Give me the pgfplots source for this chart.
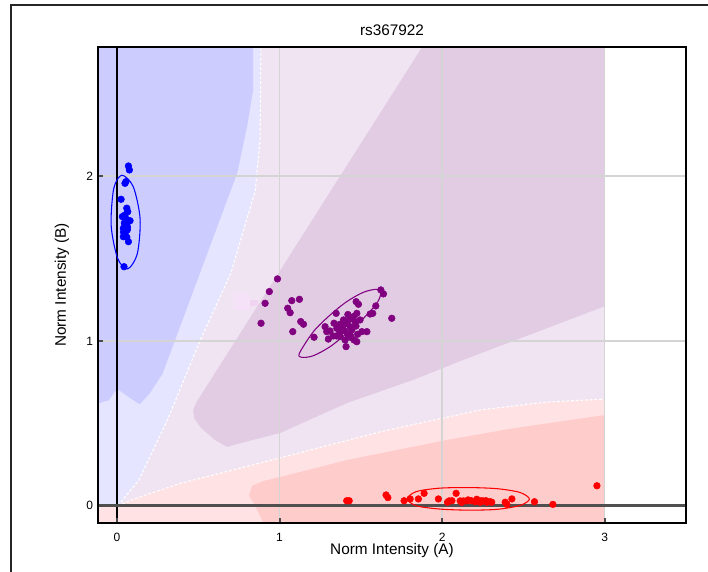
\documentclass[border=0pt]{standalone}
\usepackage{pgfplots}
\pgfplotsset{compat=1.18}
\usepackage{fontspec}
\setmainfont{Liberation Sans}
\definecolor{dblue}{RGB}{204,204,255}
\definecolor{lblue}{RGB}{229,229,255}
\definecolor{lav}{RGB}{240,228,242}
\definecolor{dpur}{RGB}{226,204,228}
\definecolor{lpink}{RGB}{255,226,228}
\definecolor{dpink}{RGB}{255,204,204}
\definecolor{gridc}{RGB}{212,212,212}
\definecolor{zeroc}{RGB}{80,80,80}
\definecolor{sq1}{RGB}{246,226,248}
\definecolor{sq2}{RGB}{240,212,240}
\definecolor{ppl}{RGB}{128,0,128}
\begin{document}
\begin{tikzpicture}
\useasboundingbox (0,0) rectangle (531pt,429pt);
\draw[line width=1.5pt, color=black!85] (8.25pt,-20pt) rectangle (560pt,425.25pt);
\begin{axis}[
  at={(73.5pt,36.75pt)}, anchor=south west,
  width=441pt, height=357pt, scale only axis,
  xmin=-0.117, xmax=3.5, ymin=-0.105, ymax=2.783,
  axis on top,
  axis line style={line width=1.5pt, black},
  xtick={0,1,2,3}, ytick={0,1,2},
  xtick pos=left, ytick pos=left,
  tick align=inside, major tick length=3.75pt,
  tick style={line width=1.5pt, color=black!70},
  /pgf/number format/assume math mode=true,
  tick label style={font=\fontsize{9}{10}\selectfont, inner sep=0pt},
  xticklabel style={anchor=center, yshift=-10.5pt},
  yticklabel style={anchor=east, xshift=-3.5pt},
]
% background regions
\addplot[fill=lav, draw=none] coordinates {(-0.117,-0.105) (3,-0.105) (3,2.783) (-0.117,2.783)} --cycle;
\addplot[fill=lblue, draw=none] coordinates {(-0.117,0) (0.005,0) (0.135,0.156) (0.31,0.52) (0.51,1.0) (0.70,1.41) (0.85,1.91) (0.88,2.22) (0.885,2.783) (-0.117,2.783)} --cycle;
\addplot[fill=dblue, draw=none] coordinates {(-0.117,0.62) (-0.05,0.64) (0.0,0.71) (0.07,0.66) (0.14,0.615) (0.2,0.68) (0.28,0.80) (0.51,1.41) (0.74,2.02) (0.80,2.3) (0.837,2.52) (0.837,2.783) (-0.117,2.783)} --cycle;
\addplot[fill=dpur, draw=none] coordinates {(0.49,0.63) (0.468,0.581) (0.475,0.53) (0.511,0.478) (0.60,0.40) (0.677,0.357) (0.80,0.39) (1.003,0.441) (1.415,0.623) (1.822,0.763) (2.129,0.884) (2.6,1.06) (3.0,1.21) (3.0,2.783) (1.877,2.783)} --cycle;
\addplot[fill=lpink, draw=none] coordinates {(-0.117,-0.105) (-0.117,0) (0.005,0) (0.1,0.04) (0.388,0.135) (1.003,0.29) (1.618,0.448) (2.234,0.581) (2.646,0.629) (3.0,0.647) (3,-0.105)} --cycle;
\addplot[fill=dpink, draw=none] coordinates {(0.9,-0.105) (0.85,0.0) (0.812,0.06) (0.83,0.12) (0.9,0.15) (1.003,0.174) (1.415,0.277) (2.03,0.399) (2.44,0.47) (3,0.55) (3,-0.105)} --cycle;
\addplot[fill=sq1, draw=none] coordinates {(0.714,1.19) (0.818,1.19) (0.818,1.29) (0.714,1.29)} --cycle;
\addplot[fill=sq2, draw=none] coordinates {(0.818,1.21) (0.868,1.21) (0.868,1.25) (0.818,1.25)} --cycle;
% white dashed boundaries
\addplot[white, line width=0.8pt, dash pattern=on 2pt off 1.5pt] coordinates {(0.005,0) (0.135,0.156) (0.31,0.52) (0.51,1.0) (0.70,1.41) (0.85,1.91) (0.88,2.22) (0.885,2.783)};
\addplot[white, line width=0.8pt, dash pattern=on 2pt off 1.5pt] coordinates {(0.005,0) (0.1,0.04) (0.388,0.135) (1.003,0.29) (1.618,0.448) (2.234,0.581) (2.646,0.629) (3.0,0.647)};
% grid
\draw[gridc, line width=1.1pt] (1,-0.105) -- (1,2.783);
\draw[gridc, line width=1.1pt] (2,-0.105) -- (2,2.783);
\draw[gridc, line width=1.1pt] (3,-0.105) -- (3,2.783);
\draw[gridc, line width=1.1pt] (-0.117,1) -- (3.5,1);
\draw[gridc, line width=1.1pt] (-0.117,2) -- (3.5,2);
% zero lines
\draw[black, line width=1pt] (0,-0.105) -- (0,2.783);
\draw[zeroc, line width=1.9pt] (-0.117,0) -- (3.5,0);
% ellipses
\addplot[blue, line width=0.8pt, smooth cycle] coordinates {(0.030,2.005) (0.100,1.935) (0.142,1.74) (0.125,1.53) (0.066,1.437) (0.004,1.50) (-0.036,1.70) (-0.020,1.925)};
\addplot[ppl, line width=0.8pt, smooth cycle] coordinates {(1.122,0.925) (1.208,1.056) (1.311,1.157) (1.413,1.238) (1.516,1.295) (1.598,1.313) (1.623,1.289) (1.598,1.228) (1.516,1.137) (1.413,1.046) (1.311,0.965) (1.208,0.910) (1.137,0.900)};
\addplot[red, line width=0.8pt, smooth cycle] coordinates {(1.785,0.042) (1.84,0.085) (1.98,0.106) (2.16,0.110) (2.34,0.103) (2.48,0.080) (2.537,0.040) (2.48,0.002) (2.34,-0.022) (2.16,-0.027) (1.98,-0.020) (1.84,0.000)};
% points
\addplot[only marks, mark=*, mark size=2.5pt, blue] coordinates {
(0.070,2.061)(0.076,2.037)(0.055,1.966)(0.049,1.956)(0.025,1.859)(0.060,1.805)(0.066,1.784)(0.049,1.764)(0.033,1.754)(0.080,1.729)(0.060,1.709)(0.049,1.693)(0.039,1.683)(0.063,1.673)(0.049,1.653)(0.060,1.629)(0.070,1.602)(0.039,1.632)(0.043,1.450)(0.055,1.740)(0.045,1.715)(0.065,1.690)(0.040,1.660)};
\addplot[only marks, mark=*, mark size=2.5pt, ppl] coordinates {
(0.987,1.376)(0.937,1.299)(0.911,1.228)(0.886,1.107)(1.075,1.244)(1.122,1.252)(1.050,1.198)(1.065,1.171)(1.130,1.117)(1.147,1.101)(1.081,1.056)(1.212,1.022)(1.280,1.086)(1.290,1.056)(1.300,1.011)(1.348,1.167)(1.335,1.107)(1.352,1.076)(1.372,1.056)(1.393,1.127)(1.413,1.107)(1.372,1.026)(1.403,1.005)(1.409,0.965)(1.434,1.086)(1.444,1.066)(1.434,1.036)(1.454,1.147)(1.465,1.117)(1.471,1.238)(1.485,1.222)(1.475,1.167)(1.495,1.127)(1.458,1.005)(1.475,0.995)(1.506,1.056)(1.537,1.056)(1.557,1.163)(1.573,1.167)(1.592,1.212)(1.623,1.309)(1.639,1.285)(1.690,1.137)
(1.31,1.06)(1.33,1.03)(1.40,1.06)(1.42,1.04)(1.44,1.02)(1.39,1.09)(1.37,1.10)(1.47,1.09)(1.48,1.04)(1.35,1.03)(1.38,1.08)(1.43,1.13)(1.42,1.16)};
\addplot[only marks, mark=*, mark size=2.5pt, red] coordinates {
(1.413,0.030)(1.428,0.030)(1.655,0.065)(1.666,0.049)(1.766,0.030)(1.803,0.041)(1.854,0.041)(1.889,0.075)(1.977,0.041)(2.033,0.021)(2.043,0.029)(2.086,0.075)(2.111,0.029)(2.131,0.029)(2.152,0.029)(2.203,0.024)(2.213,0.039)(2.234,0.021)(2.254,0.029)(2.275,0.021)(2.295,0.024)(2.305,0.021)(2.388,0.021)(2.398,0.008)(2.429,0.041)(2.568,0.024)(2.681,0.008)(2.952,0.121)
(2.06,0.03)(2.12,0.02)(2.18,0.03)(2.24,0.03)(2.27,0.03)(2.16,0.035)};
\end{axis}
\node[font=\fontsize{11.5}{13}\selectfont] at (294pt,406.5pt) {rs367922};
\node[font=\fontsize{11.5}{13}\selectfont] at (294pt,15.75pt) {Norm Intensity (A)};
\node[font=\fontsize{11.5}{13}\selectfont, rotate=90] at (46.5pt,215.25pt) {Norm Intensity (B)};
\end{tikzpicture}
\end{document}
